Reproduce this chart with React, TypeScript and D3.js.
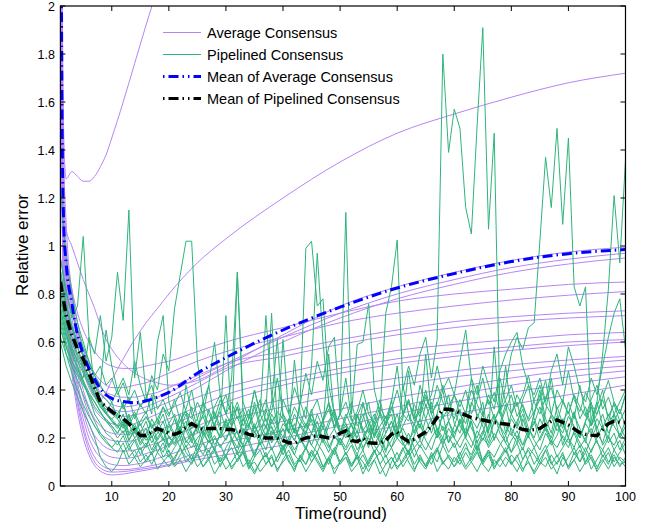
import React from "react";
import * as d3 from "d3";

const W = 649;
const H = 527;

// x positions (rounds) where the Average Consensus runs were sampled
const sampleRounds = [1, 1.3, 1.6, 2, 3, 4, 5, 6, 7, 8, 9, 10, 12, 14, 16, 18, 20, 25, 30, 40, 50, 60, 70, 80, 90, 100];

const avg1 = [3.6, 2.1, 1.45, 1.28, 1.31, 1.29, 1.27, 1.27, 1.29, 1.33, 1.38, 1.45, 1.6, 1.76, 1.92, 2.07, 2.2, 2.5, 2.8, 3.2, 3.5, 3.7, 3.9, 4.0, 4.1, 4.2];
const avg2 = [3.4, 1.9, 1.35, 1.1, 0.8, 0.6, 0.48, 0.41, 0.37, 0.36, 0.39, 0.44, 0.53, 0.61, 0.68, 0.74, 0.8, 0.93, 1.03, 1.2, 1.35, 1.47, 1.55, 1.62, 1.68, 1.72];
const avg3 = [3.0, 1.6, 1.2, 1.07, 1.0, 0.93, 0.86, 0.8, 0.74, 0.67, 0.61, 0.57, 0.51, 0.47, 0.445, 0.43, 0.42, 0.44, 0.5, 0.63, 0.75, 0.83, 0.89, 0.94, 0.975, 0.995];
const avg4 = [2.9, 1.55, 1.15, 1.0, 0.82, 0.68, 0.57, 0.49, 0.43, 0.39, 0.36, 0.34, 0.33, 0.335, 0.35, 0.37, 0.39, 0.45, 0.51, 0.62, 0.72, 0.8, 0.86, 0.91, 0.945, 0.97];
const avg5 = [2.8, 1.5, 1.1, 0.96, 0.78, 0.64, 0.53, 0.45, 0.39, 0.35, 0.32, 0.3, 0.29, 0.295, 0.31, 0.33, 0.35, 0.41, 0.48, 0.6, 0.7, 0.78, 0.84, 0.89, 0.925, 0.95];
const avg6 = [2.7, 1.45, 1.08, 0.95, 0.82, 0.72, 0.65, 0.6, 0.56, 0.53, 0.51, 0.5, 0.49, 0.49, 0.5, 0.51, 0.52, 0.56, 0.6, 0.66, 0.72, 0.77, 0.8, 0.82, 0.84, 0.85];
const avg7 = [2.6, 1.4, 1.05, 0.92, 0.76, 0.65, 0.57, 0.51, 0.47, 0.44, 0.42, 0.41, 0.41, 0.42, 0.43, 0.45, 0.47, 0.52, 0.56, 0.62, 0.68, 0.72, 0.75, 0.775, 0.795, 0.81];
const avg8 = [2.6, 1.4, 1.02, 0.9, 0.74, 0.62, 0.54, 0.48, 0.44, 0.41, 0.39, 0.38, 0.37, 0.37, 0.38, 0.39, 0.41, 0.46, 0.51, 0.56, 0.61, 0.65, 0.685, 0.705, 0.72, 0.73];
const avg9 = [2.5, 1.35, 1.0, 0.88, 0.7, 0.58, 0.49, 0.43, 0.38, 0.35, 0.33, 0.32, 0.31, 0.315, 0.33, 0.35, 0.37, 0.43, 0.49, 0.54, 0.59, 0.63, 0.66, 0.685, 0.7, 0.71];
const avg10 = [2.5, 1.32, 0.98, 0.85, 0.66, 0.53, 0.44, 0.37, 0.32, 0.29, 0.27, 0.26, 0.25, 0.26, 0.28, 0.3, 0.32, 0.37, 0.41, 0.47, 0.52, 0.565, 0.59, 0.61, 0.63, 0.64];
const avg11 = [2.4, 1.3, 0.95, 0.82, 0.63, 0.5, 0.4, 0.33, 0.28, 0.25, 0.23, 0.22, 0.215, 0.22, 0.24, 0.26, 0.28, 0.33, 0.38, 0.44, 0.49, 0.53, 0.56, 0.58, 0.6, 0.61];
const avg12 = [2.4, 1.28, 0.93, 0.8, 0.6, 0.47, 0.37, 0.3, 0.25, 0.22, 0.2, 0.19, 0.185, 0.19, 0.21, 0.23, 0.25, 0.3, 0.35, 0.42, 0.47, 0.51, 0.54, 0.565, 0.585, 0.6];
const avg13 = [2.3, 1.25, 0.9, 0.78, 0.57, 0.43, 0.33, 0.26, 0.21, 0.18, 0.16, 0.15, 0.145, 0.15, 0.165, 0.18, 0.2, 0.25, 0.3, 0.36, 0.41, 0.45, 0.48, 0.505, 0.525, 0.54];
const avg14 = [2.3, 1.22, 0.88, 0.76, 0.55, 0.41, 0.31, 0.23, 0.18, 0.15, 0.13, 0.12, 0.115, 0.12, 0.135, 0.15, 0.17, 0.22, 0.27, 0.33, 0.38, 0.42, 0.455, 0.48, 0.505, 0.525];
const avg15 = [2.2, 1.2, 0.86, 0.74, 0.53, 0.38, 0.28, 0.2, 0.15, 0.12, 0.1, 0.09, 0.085, 0.09, 0.1, 0.115, 0.13, 0.17, 0.21, 0.27, 0.32, 0.37, 0.41, 0.45, 0.48, 0.5];
const avg16 = [2.2, 1.18, 0.84, 0.72, 0.51, 0.36, 0.25, 0.17, 0.12, 0.09, 0.075, 0.07, 0.068, 0.072, 0.08, 0.09, 0.1, 0.14, 0.18, 0.23, 0.28, 0.33, 0.38, 0.42, 0.455, 0.48];
const avg17 = [2.1, 1.15, 0.82, 0.7, 0.49, 0.34, 0.23, 0.15, 0.1, 0.075, 0.062, 0.058, 0.06, 0.066, 0.073, 0.08, 0.09, 0.12, 0.15, 0.2, 0.25, 0.3, 0.35, 0.39, 0.425, 0.455];
const avg18 = [2.1, 1.12, 0.8, 0.68, 0.47, 0.31, 0.2, 0.13, 0.085, 0.062, 0.05, 0.046, 0.05, 0.058, 0.066, 0.075, 0.085, 0.11, 0.13, 0.17, 0.21, 0.25, 0.3, 0.34, 0.38, 0.42];

const meanAverage = [3.6, 1.5, 1.08, 0.93, 0.76, 0.63, 0.55, 0.49, 0.445, 0.405, 0.38, 0.365, 0.352, 0.347, 0.355, 0.37, 0.39, 0.47, 0.535, 0.65, 0.745, 0.825, 0.885, 0.935, 0.968, 0.985];

// Pipelined Consensus runs, one value per round 1..100
const pipe1 = [0.72,0.6,0.52,0.47,0.43,0.38,0.33,0.3,0.28,0.25, 0.22,0.26,0.19,0.23,0.17,0.21,0.15,0.2,0.24,0.17, 0.21,0.16,0.25,0.19,0.14,0.22,0.18,0.26,0.2,0.23, 0.3,0.22,0.17,0.25,0.33,0.24,0.19,0.28,0.22,0.36, 0.3,0.41,0.34,0.47,0.38,0.52,0.44,0.58,0.62,0.3, 1.14,0.3,0.59,0.6,0.76,0.4,0.3,0.72,0.83,1.025, 0.4,0.5,0.42,0.55,0.62,0.45,0.61,1.8,1.39,1.57, 1.49,1.16,1.05,1.5,1.91,1.07,1.47,0.3,0.42,0.55, 0.62,0.57,0.66,0.68,1.02,1.37,1.16,1.49,1.09,1.45, 0.83,0.75,0.83,0.25,0.35,0.55,0.82,1.21,0.93,1.36];
const pipe2 = [0.95,0.82,0.7,0.75,1.04,0.62,0.55,0.71,0.52,0.62, 0.89,0.69,1.15,0.45,0.64,0.38,0.3,0.6,0.71,0.35, 0.28,0.22,0.42,0.3,0.22,0.35,0.2,0.31,0.25,0.71, 0.22,0.89,0.3,0.18,0.26,0.2,0.31,0.72,0.24,0.18, 0.28,0.22,0.35,0.99,1.02,0.75,0.78,0.42,0.3,0.22, 0.25,0.18,0.3,0.22,0.16,0.27,0.2,0.14,0.24,0.3, 0.21,0.17,0.26,0.19,0.28,0.35,0.22,0.3,0.18,0.25, 0.32,0.2,0.27,0.15,0.22,0.3,0.19,0.26,0.34,0.22, 0.18,0.28,0.21,0.3,0.38,0.25,0.2,0.29,0.17,0.24, 0.31,0.2,0.27,0.35,0.22,0.18,0.26,0.3,0.2,0.25];
const pipe3 = [1.25,0.95,0.8,0.68,0.6,0.52,0.46,0.42,0.65,0.5, 0.4,0.45,0.38,0.52,0.42,0.35,0.46,0.4,0.55,0.48, 0.74,0.88,1.02,1.02,0.52,0.35,0.42,0.28,0.36,0.3, 0.25,0.33,0.22,0.28,0.4,0.3,0.24,0.35,0.61,0.28, 0.22,0.525,0.3,0.25,0.32,0.2,0.27,0.35,0.24,0.3, 0.45,0.28,0.22,0.34,0.27,0.2,0.31,0.25,0.36,0.22, 0.28,0.48,0.3,0.24,0.34,0.27,0.2,0.31,0.38,0.26, 0.22,0.3,0.45,0.28,0.35,0.2,0.27,0.32,0.5,0.3, 0.25,0.36,0.42,0.28,0.22,0.31,0.45,0.3,0.24,0.35, 0.28,0.42,0.3,0.25,0.33,0.4,0.27,0.35,0.3,0.38];
const pipe4 = [0.65,0.58,0.52,0.48,0.45,0.62,0.4,0.36,0.33,0.3, 0.28,0.35,0.25,0.3,0.22,0.27,0.2,0.25,0.3,0.22, 0.28,0.2,0.25,0.33,0.24,0.3,0.42,0.6,0.38,0.3, 0.45,0.89,0.35,0.28,0.4,0.3,0.71,0.38,0.25,0.61, 0.3,0.22,0.35,0.28,0.5,0.97,0.6,0.35,0.28,0.22, 0.3,0.25,0.2,0.28,0.35,0.22,0.18,0.26,0.3,0.2, 0.42,0.3,0.25,0.35,0.28,0.22,0.3,0.4,0.27,0.2, 0.28,0.22,0.35,0.3,0.25,0.18,0.27,0.33,0.22,0.3, 0.35,0.25,0.2,0.3,0.4,0.28,0.22,0.33,0.26,0.2, 0.3,0.24,0.18,0.28,0.35,0.25,0.2,0.3,0.25,0.2];
const pipe5 = [0.9,0.75,0.66,0.58,0.5,0.45,0.4,0.35,0.3,0.28, 0.25,0.3,0.22,0.26,0.2,0.24,0.18,0.22,0.27,0.2, 0.18,0.24,0.3,0.22,0.17,0.25,0.2,0.15,0.22,0.28, 0.2,0.16,0.24,0.18,0.12,0.2,0.25,0.18,0.22,0.15, 0.2,0.26,0.18,0.22,0.3,0.24,0.18,0.25,0.32,0.22, 0.28,0.35,0.25,0.3,0.22,0.28,0.36,0.25,0.32,0.4, 0.3,0.36,0.28,0.42,0.33,0.38,0.5,0.4,0.45,0.38, 0.52,0.65,0.45,0.38,0.5,0.42,0.35,0.48,0.55,0.6, 0.64,0.5,0.42,0.38,0.45,0.35,0.48,0.55,0.42,0.58, 0.5,0.4,0.35,0.45,0.38,0.5,0.62,0.72,0.78,0.57];
const pipe6 = [0.85,0.7,0.62,0.55,0.5,0.44,0.38,0.33,0.3,0.27, 0.24,0.28,0.21,0.25,0.18,0.22,0.26,0.19,0.23,0.16, 0.2,0.25,0.18,0.22,0.15,0.2,0.24,0.17,0.21,0.26, 0.19,0.14,0.22,0.18,0.25,0.2,0.15,0.23,0.19,0.13, 0.18,0.24,0.2,0.15,0.22,0.27,0.19,0.14,0.21,0.17, 0.23,0.18,0.13,0.2,0.25,0.17,0.22,0.15,0.19,0.24, 0.18,0.13,0.2,0.16,0.23,0.28,0.2,0.25,0.18,0.22, 0.27,0.2,0.16,0.23,0.19,0.25,0.3,0.22,0.18,0.24, 0.2,0.15,0.22,0.27,0.19,0.24,0.17,0.21,0.28,0.2, 0.16,0.23,0.19,0.14,0.2,0.25,0.18,0.22,0.15,0.2];
const pipe7 = [0.7,0.58,0.5,0.44,0.38,0.32,0.27,0.22,0.19,0.16, 0.14,0.18,0.12,0.15,0.1,0.13,0.09,0.14,0.11,0.08, 0.12,0.16,0.1,0.13,0.08,0.11,0.15,0.09,0.12,0.07, 0.1,0.14,0.08,0.11,0.06,0.1,0.13,0.08,0.12,0.16, 0.1,0.07,0.12,0.09,0.14,0.1,0.06,0.11,0.15,0.09, 0.12,0.08,0.13,0.1,0.06,0.11,0.14,0.09,0.12,0.07, 0.11,0.15,0.09,0.13,0.08,0.12,0.16,0.1,0.07,0.12, 0.09,0.14,0.1,0.06,0.11,0.15,0.09,0.12,0.08,0.13, 0.1,0.06,0.12,0.16,0.1,0.08,0.13,0.09,0.14,0.07, 0.11,0.15,0.09,0.12,0.06,0.1,0.14,0.08,0.12,0.1];
const pipe8 = [0.95,0.8,0.72,0.65,0.58,0.52,0.46,0.42,0.38,0.35, 0.4,0.32,0.37,0.28,0.34,0.3,0.38,0.26,0.33,0.29, 0.36,0.27,0.32,0.4,0.28,0.35,0.3,0.25,0.33,0.38, 0.29,0.35,0.27,0.32,0.24,0.3,0.36,0.26,0.31,0.28, 0.22,0.3,0.25,0.33,0.27,0.2,0.28,0.34,0.24,0.3, 0.26,0.21,0.29,0.35,0.25,0.3,0.22,0.27,0.33,0.24, 0.29,0.36,0.27,0.31,0.4,0.3,0.35,0.28,0.33,0.38, 0.3,0.26,0.34,0.42,0.3,0.36,0.28,0.25,0.32,0.38, 0.29,0.34,0.27,0.31,0.36,0.44,0.3,0.26,0.35,0.3, 0.38,0.28,0.33,0.25,0.3,0.36,0.29,0.34,0.27,0.32];
const pipe9 = [0.75,0.62,0.55,0.49,0.43,0.37,0.3,0.26,0.22,0.2, 0.17,0.21,0.15,0.19,0.13,0.17,0.21,0.14,0.18,0.12, 0.16,0.2,0.14,0.11,0.17,0.13,0.19,0.15,0.1,0.16, 0.2,0.13,0.17,0.09,0.14,0.18,0.12,0.16,0.1,0.15, 0.19,0.13,0.1,0.16,0.12,0.18,0.14,0.09,0.15,0.2, 0.13,0.17,0.11,0.15,0.09,0.14,0.18,0.12,0.16,0.1, 0.15,0.19,0.12,0.17,0.13,0.09,0.15,0.2,0.14,0.18, 0.11,0.16,0.13,0.19,0.1,0.15,0.12,0.17,0.21,0.14, 0.18,0.11,0.16,0.13,0.09,0.15,0.19,0.12,0.16,0.2, 0.13,0.17,0.1,0.15,0.19,0.12,0.16,0.1,0.14,0.18];
const pipe10 = [0.8,0.66,0.58,0.52,0.47,0.42,0.37,0.33,0.3,0.28, 0.3,0.25,0.29,0.23,0.27,0.31,0.24,0.28,0.22,0.26, 0.3,0.23,0.27,0.21,0.25,0.29,0.22,0.26,0.31,0.24, 0.28,0.33,0.25,0.3,0.22,0.27,0.32,0.24,0.2,0.26, 0.23,0.19,0.25,0.21,0.17,0.23,0.27,0.2,0.24,0.18, 0.22,0.26,0.19,0.15,0.21,0.25,0.18,0.22,0.27,0.2, 0.24,0.19,0.23,0.28,0.21,0.25,0.3,0.23,0.27,0.22, 0.26,0.31,0.24,0.2,0.27,0.23,0.29,0.25,0.21,0.28, 0.24,0.3,0.22,0.26,0.33,0.25,0.29,0.23,0.27,0.31, 0.24,0.2,0.26,0.22,0.28,0.24,0.3,0.25,0.21,0.27];
const pipe11 = [0.68,0.55,0.47,0.4,0.34,0.29,0.25,0.21,0.18,0.16, 0.19,0.14,0.17,0.12,0.16,0.1,0.14,0.18,0.12,0.15, 0.09,0.13,0.17,0.11,0.14,0.08,0.12,0.16,0.1,0.13, 0.07,0.11,0.15,0.09,0.05,0.1,0.14,0.08,0.12,0.17, 0.11,0.06,0.13,0.09,0.15,0.11,0.07,0.12,0.16,0.1, 0.14,0.08,0.12,0.05,0.1,0.15,0.09,0.13,0.07,0.11, 0.16,0.1,0.06,0.12,0.08,0.14,0.1,0.17,0.12,0.08, 0.13,0.18,0.11,0.15,0.09,0.13,0.07,0.12,0.16,0.1, 0.06,0.11,0.15,0.09,0.13,0.17,0.1,0.05,0.12,0.08, 0.14,0.1,0.16,0.11,0.07,0.13,0.09,0.15,0.11,0.08];
const pipe12 = [0.88,0.74,0.66,0.6,0.55,0.5,0.46,0.5,0.42,0.45, 0.38,0.43,0.35,0.4,0.33,0.37,0.42,0.32,0.36,0.3, 0.34,0.39,0.31,0.28,0.35,0.3,0.26,0.33,0.38,0.3, 0.35,0.28,0.32,0.25,0.3,0.36,0.27,0.31,0.45,0.3, 0.26,0.33,0.28,0.24,0.31,0.36,0.27,0.32,0.25,0.3, 0.35,0.27,0.31,0.4,0.3,0.26,0.33,0.28,0.35,0.5, 0.3,0.27,0.34,0.29,0.37,0.32,0.42,0.35,0.3,0.38, 0.33,0.4,0.3,0.36,0.45,0.34,0.39,0.31,0.36,0.42, 0.33,0.38,0.46,0.35,0.3,0.37,0.41,0.32,0.36,0.3, 0.38,0.33,0.29,0.36,0.42,0.32,0.37,0.3,0.35,0.4];
const pipe13 = [0.78,0.64,0.56,0.5,0.44,0.39,0.35,0.31,0.27,0.25, 0.22,0.27,0.19,0.24,0.2,0.16,0.23,0.18,0.14,0.21, 0.17,0.22,0.16,0.2,0.25,0.18,0.14,0.2,0.17,0.12, 0.19,0.23,0.16,0.2,0.13,0.18,0.22,0.15,0.19,0.24, 0.17,0.13,0.2,0.16,0.22,0.18,0.25,0.17,0.13,0.2, 0.16,0.22,0.15,0.19,0.24,0.17,0.13,0.2,0.16,0.23, 0.18,0.14,0.21,0.26,0.19,0.15,0.22,0.17,0.24,0.2, 0.16,0.21,0.27,0.18,0.23,0.16,0.2,0.25,0.18,0.14, 0.21,0.17,0.24,0.19,0.15,0.22,0.18,0.26,0.2,0.16, 0.23,0.18,0.14,0.2,0.25,0.17,0.21,0.15,0.19,0.13];
const pipe14 = [0.82,0.68,0.6,0.54,0.48,0.43,0.38,0.34,0.3,0.35, 0.28,0.24,0.3,0.22,0.26,0.2,0.28,0.23,0.19,0.25, 0.21,0.3,0.23,0.18,0.26,0.22,0.32,0.25,0.2,0.27, 0.23,0.19,0.28,0.24,0.35,0.26,0.21,0.3,0.25,0.2, 0.28,0.23,0.19,0.26,0.22,0.3,0.24,0.55,0.28,0.22, 0.26,0.2,0.29,0.24,0.18,0.25,0.3,0.22,0.27,0.2, 0.25,0.3,0.22,0.28,0.55,0.3,0.24,0.2,0.27,0.32, 0.25,0.21,0.28,0.24,0.3,0.22,0.58,0.3,0.25,0.21, 0.27,0.32,0.24,0.2,0.28,0.23,0.3,0.26,0.22,0.29, 0.25,0.2,0.27,0.33,0.24,0.3,0.22,0.27,0.32,0.25];
const pipe15 = [0.6,0.5,0.43,0.37,0.31,0.26,0.2,0.12,0.08,0.06, 0.09,0.15,0.09,0.12,0.08,0.11,0.14,0.07,0.1,0.13, 0.08,0.11,0.06,0.1,0.13,0.08,0.11,0.05,0.09,0.12, 0.08,0.11,0.14,0.08,0.1,0.06,0.09,0.12,0.07,0.1, 0.13,0.08,0.11,0.06,0.1,0.14,0.08,0.11,0.07,0.1, 0.12,0.06,0.09,0.13,0.08,0.11,0.05,0.09,0.12,0.08, 0.1,0.14,0.07,0.11,0.09,0.13,0.06,0.1,0.12,0.08, 0.11,0.07,0.1,0.14,0.09,0.06,0.11,0.08,0.12,0.09, 0.13,0.07,0.1,0.05,0.09,0.12,0.07,0.1,0.13,0.08, 0.11,0.06,0.1,0.13,0.08,0.11,0.07,0.12,0.09,0.1];
const pipe16 = [0.74,0.63,0.57,0.52,0.5,0.46,0.42,0.38,0.36,0.33, 0.3,0.34,0.27,0.31,0.25,0.29,0.24,0.28,0.33,0.26, 0.22,0.27,0.31,0.24,0.28,0.21,0.26,0.3,0.23,0.19, 0.25,0.29,0.22,0.26,0.2,0.24,0.28,0.21,0.25,0.3, 0.23,0.19,0.26,0.22,0.28,0.24,0.2,0.27,0.31,0.24, 0.2,0.26,0.3,0.23,0.27,0.21,0.25,0.29,0.22,0.26, 0.3,0.35,0.28,0.32,0.38,0.3,0.34,0.42,0.33,0.28, 0.36,0.3,0.4,0.34,0.29,0.38,0.32,0.45,0.35,0.3, 0.38,0.33,0.28,0.36,0.42,0.34,0.3,0.4,0.35,0.48, 0.36,0.31,0.39,0.34,0.3,0.37,0.44,0.35,0.3,0.38];
const pipe17 = [0.9,0.76,0.67,0.6,0.54,0.48,0.42,0.36,0.31,0.27, 0.25,0.22,0.26,0.2,0.23,0.19,0.22,0.25,0.2,0.17, 0.21,0.24,0.19,0.16,0.2,0.23,0.18,0.21,0.16,0.2, 0.24,0.19,0.15,0.2,0.23,0.17,0.21,0.25,0.19,0.16, 0.2,0.15,0.19,0.23,0.17,0.14,0.2,0.16,0.21,0.18, 0.15,0.19,0.23,0.16,0.2,0.14,0.18,0.21,0.16,0.2, 0.17,0.22,0.16,0.19,0.15,0.2,0.24,0.18,0.21,0.16, 0.2,0.24,0.19,0.15,0.2,0.17,0.22,0.18,0.14,0.19, 0.23,0.17,0.21,0.16,0.2,0.25,0.19,0.16,0.21,0.18, 0.22,0.16,0.2,0.24,0.18,0.15,0.2,0.17,0.22,0.19];
const pipe18 = [0.62,0.55,0.5,0.46,0.42,0.38,0.35,0.31,0.27,0.24, 0.2,0.23,0.17,0.2,0.15,0.18,0.13,0.17,0.2,0.14, 0.11,0.16,0.12,0.09,0.14,0.18,0.11,0.15,0.08,0.13, 0.16,0.1,0.14,0.07,0.12,0.15,0.09,0.13,0.06,0.11, 0.15,0.09,0.12,0.16,0.1,0.14,0.08,0.12,0.05,0.1, 0.14,0.09,0.13,0.07,0.11,0.15,0.09,0.04,0.1,0.14, 0.08,0.12,0.16,0.1,0.07,0.12,0.15,0.09,0.13,0.1, 0.14,0.08,0.12,0.17,0.1,0.14,0.08,0.11,0.15,0.09, 0.12,0.16,0.1,0.06,0.11,0.15,0.09,0.13,0.08,0.12, 0.16,0.1,0.14,0.07,0.11,0.15,0.1,0.13,0.08,0.12];

const meanPipelined = [0.85,0.71,0.63,0.57,0.53,0.47,0.41,0.35,0.33,0.31, 0.295,0.28,0.26,0.235,0.21,0.21,0.225,0.24,0.23,0.22, 0.215,0.225,0.245,0.26,0.245,0.235,0.24,0.24,0.24,0.235, 0.235,0.23,0.225,0.215,0.21,0.205,0.2,0.2,0.2,0.19, 0.18,0.178,0.19,0.2,0.205,0.21,0.205,0.2,0.205,0.22, 0.23,0.19,0.185,0.2,0.18,0.178,0.178,0.19,0.215,0.225, 0.2,0.185,0.195,0.21,0.225,0.25,0.285,0.32,0.32,0.315, 0.305,0.295,0.285,0.28,0.275,0.27,0.265,0.26,0.258,0.254, 0.245,0.235,0.232,0.235,0.24,0.255,0.27,0.275,0.265,0.254, 0.238,0.222,0.215,0.212,0.21,0.235,0.26,0.27,0.265,0.265];

const avgRuns = [avg1, avg2, avg3, avg4, avg5, avg6, avg7, avg8, avg9, avg10, avg11, avg12, avg13, avg14, avg15, avg16, avg17, avg18];
const pipeRuns = [pipe1, pipe2, pipe3, pipe4, pipe5, pipe6, pipe7, pipe8, pipe9, pipe10, pipe11, pipe12, pipe13, pipe14, pipe15, pipe16, pipe17, pipe18];

const xTicks = [10, 20, 30, 40, 50, 60, 70, 80, 90, 100];
const yTicks = [0, 0.2, 0.4, 0.6, 0.8, 1, 1.2, 1.4, 1.6, 1.8, 2];
const yTickLabels = ["0", "0.2", "0.4", "0.6", "0.8", "1", "1.2", "1.4", "1.6", "1.8", "2"];
const legendLabels = ["Average Consensus", "Pipelined Consensus", "Mean of Average Consensus", "Mean of Pipelined Consensus"];

const PURPLE = "#b784f5";
const GREEN = "#2fb47c";
const BLUE = "#0000ff";
const BLACK = "#000000";
const FONT = "'Liberation Sans', Arial, Helvetica, sans-serif";

export default function App() {
  const left = 60.4, right = 625.5, top = 6, bottom = 486;
  const x = d3.scaleLinear().domain([1, 100]).range([left, right]);
  const y = d3.scaleLinear().domain([0, 2]).range([bottom, top]);

  const sampledLine = d3
    .line<number>()
    .x((_, i) => x(sampleRounds[i]))
    .y((d) => y(d))
    .curve(d3.curveMonotoneX);
  const roundLine = d3
    .line<number>()
    .x((_, i) => x(i + 1))
    .y((d) => y(d));

  const tickLen = 5;
  const legendX0 = 163, legendX1 = 201, legendTextX = 207;
  const legendY = [32.5, 54.5, 76.5, 98.5];
  const legendStyles = [
    { stroke: PURPLE, width: 1, dash: undefined },
    { stroke: GREEN, width: 1, dash: undefined },
    { stroke: BLUE, width: 3, dash: "1.5,4,10,4,1.5,4" },
    { stroke: BLACK, width: 3, dash: "1.5,4,10,4,1.5,4" },
  ];

  return (
    <svg
      width={W}
      height={H}
      style={{ position: "absolute", left: 0, top: 0, background: "#fff" }}
      fontFamily={FONT}
    >
      <defs>
        <clipPath id="plotClip">
          <rect x={left} y={top} width={right - left} height={bottom - top} />
        </clipPath>
      </defs>
      <rect x={0} y={0} width={W} height={H} fill="#fff" />
      <g clipPath="url(#plotClip)" fill="none">
        {avgRuns.map((run, i) => (
          <path key={"a" + i} d={sampledLine(run) || ""} stroke={PURPLE} strokeWidth={1} />
        ))}
        {pipeRuns.map((run, i) => (
          <path key={"p" + i} d={roundLine(run) || ""} stroke={GREEN} strokeWidth={1} strokeLinejoin="miter" />
        ))}
        <path d={sampledLine(meanAverage) || ""} stroke={BLUE} strokeWidth={3} strokeDasharray="10,4,1.5,4" />
        <path d={roundLine(meanPipelined) || ""} stroke={BLACK} strokeWidth={3.5} strokeDasharray="10,4,1.5,4" />
      </g>

      {/* axes box */}
      <rect x={left} y={top} width={right - left} height={bottom - top} fill="none" stroke="#000" strokeWidth={1.2} />

      {/* x ticks */}
      {xTicks.map((t) => (
        <g key={"xt" + t}>
          <line x1={x(t)} x2={x(t)} y1={bottom} y2={bottom - tickLen} stroke="#000" />
          <line x1={x(t)} x2={x(t)} y1={top} y2={top + tickLen} stroke="#000" />
          <text x={x(t)} y={501} fontSize={12.5} textAnchor="middle" fill="#000">
            {t}
          </text>
        </g>
      ))}

      {/* y ticks */}
      {yTicks.map((t, i) => (
        <g key={"yt" + t}>
          <line x1={left} x2={left + tickLen} y1={y(t)} y2={y(t)} stroke="#000" />
          <line x1={right} x2={right - tickLen} y1={y(t)} y2={y(t)} stroke="#000" />
          <text x={55} y={y(t) + 4.5} fontSize={12.5} textAnchor="end" fill="#000">
            {yTickLabels[i]}
          </text>
        </g>
      ))}

      {/* axis labels */}
      <text x={341} y={519} fontSize={17} textAnchor="middle" fill="#000">
        Time(round)
      </text>
      <text transform="translate(28,245) rotate(-90)" fontSize={17} textAnchor="middle" fill="#000">
        Relative error
      </text>

      {/* legend */}
      {legendLabels.map((lab, i) => (
        <g key={"lg" + i}>
          <line
            x1={legendX0}
            x2={legendX1}
            y1={legendY[i]}
            y2={legendY[i]}
            stroke={legendStyles[i].stroke}
            strokeWidth={legendStyles[i].width}
            strokeDasharray={legendStyles[i].dash}
          />
          <text x={legendTextX} y={legendY[i] + 5} fontSize={14.5} fill="#000">
            {lab}
          </text>
        </g>
      ))}
    </svg>
  );
}
